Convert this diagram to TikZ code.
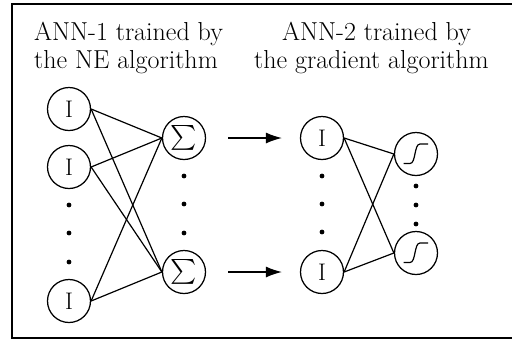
\documentclass[tikz,border=0pt]{standalone}
\usepackage{amsmath}
\usetikzlibrary{arrows.meta}
\begin{document}
\begin{tikzpicture}[x=1pt,y=-1pt,
  neuron/.style={draw,circle,line width=1.25pt,minimum size=43pt,inner sep=0pt,font=\fontsize{24}{28}\selectfont},
  sigm/.style={neuron,path picture={\draw[line width=1.2pt,shift={(path picture bounding box.center)}] (-12.5,9.5) -- (-6,9.5) .. controls (0,9.5) and (-2,-10) .. (4,-10) -- (12,-10);}},
  conn/.style={line width=1.2pt},
  flow/.style={line width=1.2pt,-{Latex[length=16pt,width=11pt]},shorten <=22pt,shorten >=18pt},
  dot/.style={circle,fill,inner sep=0pt,minimum size=4.8pt},
  lbl/.style={anchor=base,inner sep=0pt,font=\fontsize{26}{30}\selectfont}]
\useasboundingbox (0,0) rectangle (512,341);
\begin{scope}
\clip (0,0) rectangle (512,341);
\draw[line width=2pt] (11.7,3.5) rectangle (530,338.3);
\end{scope}
% titles
\node[lbl] (t1) at (128.5,40) {ANN-1 trained by};
\node[lbl] (t2) at (126,68.3) {the NE algorithm};
\node[lbl] (t3) at (376.5,40) {ANN-2 trained by};
\node[lbl] (t4) at (371.5,68.3) {the gradient algorithm};
% ANN-1
\node[neuron] (i1) at (69,109) {I};
\node[neuron] (i2) at (69,167) {I};
\node[neuron] (i3) at (69,301) {I};
\node[dot] (d1) at (69,205) {};
\node[dot] (d2) at (69,233) {};
\node[dot] (d3) at (69,262) {};
\node[neuron] (s1) at (184,138) {$\sum$};
\node[neuron] (s2) at (184,272) {$\sum$};
\node[dot] (d4) at (184,176) {};
\node[dot] (d5) at (184,204) {};
\node[dot] (d6) at (184,233) {};
\foreach \a in {i1,i2,i3}{\foreach \b in {s1,s2}{\draw[conn] (\a.east) -- (\b.west);}}
% ANN-2
\node[neuron] (m1) at (322,138) {I};
\node[neuron] (m2) at (322,272) {I};
\node[dot] (d7) at (322,176) {};
\node[dot] (d8) at (322,204) {};
\node[dot] (d9) at (322,232) {};
\node[sigm] (g1) at (416,154) {};
\node[sigm] (g2) at (416,253) {};
\node[dot] (d10) at (416,186) {};
\node[dot] (d11) at (416,205) {};
\node[dot] (d12) at (416,224) {};
\foreach \a in {m1,m2}{\foreach \b in {g1,g2}{\draw[conn] (\a.east) -- (\b.west);}}
% transfer arrows
\draw[flow] (s1) -- (m1);
\draw[flow] (s2) -- (m2);
\end{tikzpicture}
\end{document}
